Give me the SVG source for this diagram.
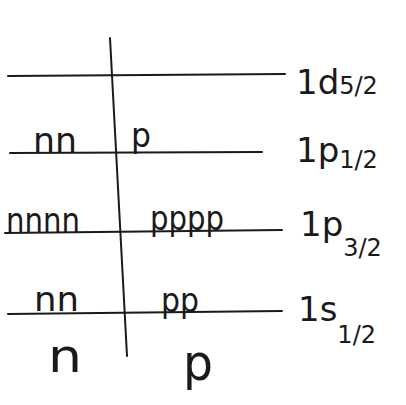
<svg xmlns="http://www.w3.org/2000/svg" width="406" height="405" viewBox="0 0 406 405">
<style>
.ln{stroke:#1a1a1a;stroke-width:2;fill:none;stroke-linecap:round}
.t{font-family:"DejaVu Sans",sans-serif;fill:#1a1a1a}
.occ{font-size:34px}
.lab{font-size:34px}
.sub{font-size:24px}
</style>
<rect width="406" height="405" fill="#fff"/>
<g id="axis">
<path class="ln" d="M110,38 L127,356"/>
</g>
<g id="levels">
<path class="ln" d="M8,76 L285,74"/>
<path class="ln" d="M10,153 L262,152"/>
<path class="ln" d="M5,233 L282,230"/>
<path class="ln" d="M8,314 L282,311"/>
</g>
<g id="occupation">
<text class="t occ" x="33" y="152" textLength="44" lengthAdjust="spacingAndGlyphs">nn</text>
<text class="t occ" x="131" y="147" textLength="20" lengthAdjust="spacingAndGlyphs">p</text>
<text class="t occ" x="6" y="232" textLength="74" lengthAdjust="spacingAndGlyphs">nnnn</text>
<text class="t occ" x="150" y="230" textLength="74" lengthAdjust="spacingAndGlyphs">pppp</text>
<text class="t occ" x="34" y="311" textLength="45" lengthAdjust="spacingAndGlyphs">nn</text>
<text class="t occ" x="161" y="312" textLength="38" lengthAdjust="spacingAndGlyphs">pp</text>
<text class="t" x="48" y="372" font-size="46" textLength="34" lengthAdjust="spacingAndGlyphs">n</text>
<text class="t" x="183" y="380" font-size="50" textLength="30" lengthAdjust="spacingAndGlyphs">p</text>
</g>
<g id="labels">
<text class="t lab" x="296" y="94">1d<tspan class="sub" font-size="26">5/2</tspan></text>
<text class="t lab" x="296" y="162">1p<tspan class="sub" dy="6" font-size="28">1/2</tspan></text>
<text class="t lab" x="300" y="236">1p<tspan class="sub" dy="20">3/2</tspan></text>
<text class="t lab" x="298" y="321">1s<tspan class="sub" dy="22">1/2</tspan></text>
</g>
</svg>
